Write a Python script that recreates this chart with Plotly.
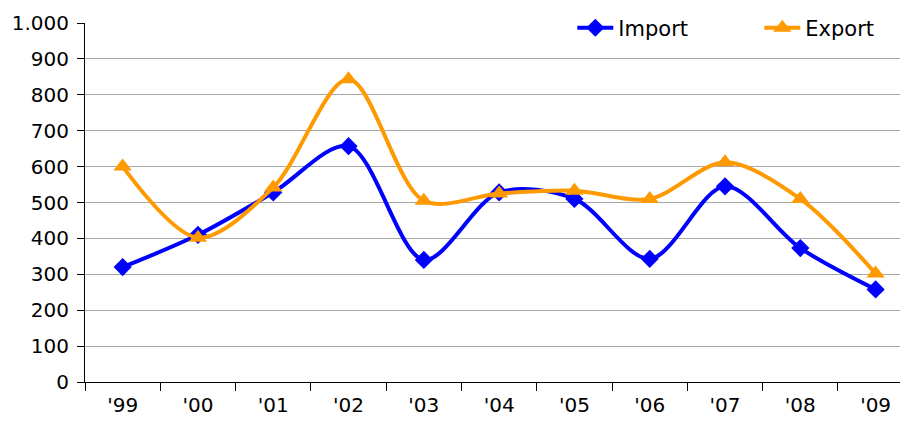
import plotly.graph_objects as go

years = ["'99", "'00", "'01", "'02", "'03", "'04", "'05", "'06", "'07", "'08", "'09"]
import_vals = [320, 410, 528, 657, 340, 528, 510, 343, 545, 373, 258]
export_vals = [600, 402, 542, 843, 505, 525, 533, 510, 612, 510, 302]
y_ticks = list(range(0, 1001, 100))
y_labels = ["0", "100", "200", "300", "400", "500", "600", "700", "800", "900", "1.000"]

_BLUE = "#0000FF"
_ORANGE = "#FF9900"
_FONT = "DejaVu Sans"

# page body adds an 8px offset, so the figure is drawn 900x419
fig = go.Figure()
fig.add_scatter(x=years, y=import_vals, name="Import", mode="lines+markers",
                line=dict(color=_BLUE, width=4, shape="spline", smoothing=0.9),
                marker=dict(symbol="diamond", size=14, color=_BLUE))
fig.add_scatter(x=years, y=export_vals, name="Export", mode="lines+markers",
                line=dict(color=_ORANGE, width=4, shape="spline", smoothing=0.9),
                marker=dict(symbol="triangle-up", size=16, color=_ORANGE))

fig.update_layout(
    width=900, height=419,
    margin=dict(l=77, r=0, t=15, b=45, autoexpand=False),
    paper_bgcolor="#FFFFFF", plot_bgcolor="#FFFFFF",
    font=dict(family=_FONT, color="#000000", size=20),
    legend=dict(orientation="h", xref="container", yref="container",
                x=0.627, xanchor="left", y=0.952, yanchor="middle",
                font=dict(size=21), bgcolor="rgba(255,255,255,0)",
                itemwidth=36, entrywidth=136, entrywidthmode="pixels"),
    showlegend=True,
)
fig.update_xaxes(
    type="category", range=[-0.5, 10.43], tickson="boundaries",
    ticks="outside", ticklen=8, tickcolor="#000000",
    showline=True, linecolor="#000000", linewidth=1,
    showgrid=False, tickfont=dict(size=20), ticklabelstandoff=5,
)
fig.update_yaxes(
    range=[0, 1000], tickvals=y_ticks, ticktext=y_labels,
    ticks="outside", ticklen=7, tickcolor="#000000",
    showline=True, linecolor="#000000", linewidth=1,
    showgrid=True, gridcolor="#A8A8A8", gridwidth=1,
    zeroline=False, tickfont=dict(size=20), ticklabelstandoff=4,
)

fig.write_html("out.html")
